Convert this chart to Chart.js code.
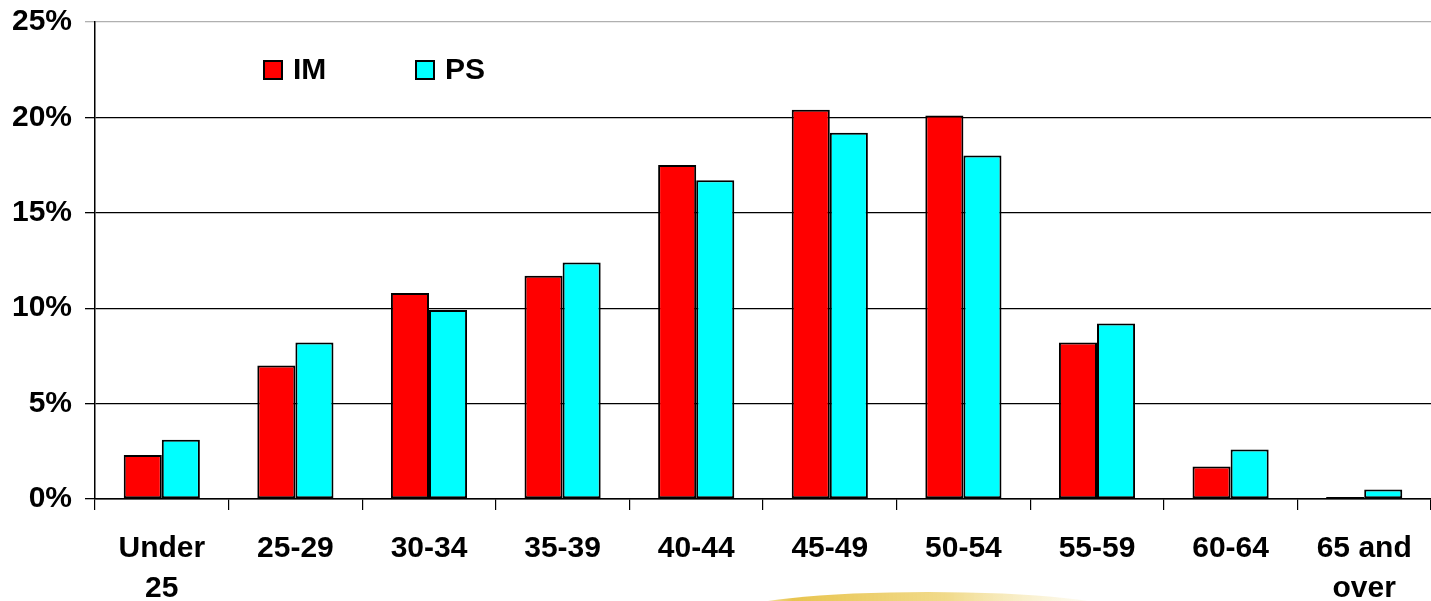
<!DOCTYPE html>
<html>
<head>
<meta charset="utf-8">
<script src="https://cdn.jsdelivr.net/npm/chart.js@4.4.1/dist/chart.umd.min.js"></script>
<style>
  html, body { margin: 0; padding: 0; background: #fff; }
  #wrap { width: 1431px; height: 601px; position: relative; }
</style>
</head>
<body>
<div id="wrap"><canvas id="c" width="1431" height="601"></canvas></div>
<script>
// Age bands and share of each group (percent)
const ageBands = [['Under', '25'], '25-29', '30-34', '35-39', '40-44', '45-49', '50-54', '55-59', '60-64', ['65 and', 'over']];
const imShare = [2.3, 7.0, 10.8, 11.7, 17.5, 20.4, 20.1, 8.2, 1.7, 0.1];
const psShare = [3.1, 8.2, 9.9, 12.4, 16.7, 19.2, 18.0, 9.2, 2.6, 0.5];
const yTicks = [0, 5, 10, 15, 20, 25];

const FONT = '"Liberation Sans", Arial, sans-serif';

// Legend drawn inside the plot area, top-left
const innerLegend = {
  id: 'innerLegend',
  afterDraw(chart) {
    const { ctx, chartArea } = chart;
    const items = chart.data.datasets;
    const x0 = chartArea.left + 169, y0 = chartArea.top + 39;
    const gap = 152;
    ctx.save();
    ctx.font = 'bold 30px ' + FONT;
    ctx.textBaseline = 'middle';
    items.forEach((ds, i) => {
      const x = x0 + i * gap;
      ctx.fillStyle = ds.backgroundColor;
      ctx.fillRect(x, y0, 18, 18);
      ctx.lineWidth = 2;
      ctx.strokeStyle = '#000';
      ctx.strokeRect(x, y0, 18, 18);
      ctx.fillStyle = '#000';
      ctx.fillText(ds.label, x + 29, y0 + 10);
    });
    ctx.restore();
  }
};

// Soft golden sweep along the bottom edge of the slide
const bottomSweep = {
  id: 'bottomSweep',
  beforeDraw(chart) {
    const { ctx } = chart;
    ctx.save();
    const g = ctx.createLinearGradient(735, 0, 1120, 0);
    g.addColorStop(0, 'rgba(230,190,60,0.0)');
    g.addColorStop(0.15, 'rgba(230,190,60,0.9)');
    g.addColorStop(0.55, 'rgba(236,206,100,0.75)');
    g.addColorStop(1, 'rgba(245,230,170,0.0)');
    ctx.fillStyle = g;
    ctx.beginPath();
    ctx.ellipse(928, 613, 195, 21, 0, 0, Math.PI * 2);
    ctx.fill();
    ctx.restore();
  }
};

new Chart(document.getElementById('c'), {
  type: 'bar',
  data: {
    labels: ageBands,
    datasets: [
      { label: 'IM', data: imShare, backgroundColor: '#ff0000', borderColor: '#000', borderWidth: 2, borderSkipped: false },
      { label: 'PS', data: psShare, backgroundColor: '#00ffff', borderColor: '#000', borderWidth: 2, borderSkipped: false }
    ]
  },
  options: {
    responsive: false,
    animation: false,
    devicePixelRatio: 1,
    layout: { padding: { top: 22, right: 0, left: 0, bottom: 0 } },
    datasets: { bar: { categoryPercentage: 0.57, barPercentage: 1.0 } },
    plugins: { legend: { display: false }, tooltip: { enabled: false } },
    scales: {
      x: {
        offset: true,
        afterFit(scale) {
          scale.height = 102;
          scale.paddingLeft = 0;
          scale.paddingRight = 0;
        },
        grid: { offset: true, drawOnChartArea: false, drawTicks: true, tickLength: 11, color: '#000', lineWidth: 1.2 },
        border: { color: '#000', width: 1.5 },
        ticks: {
          color: '#000',
          font: { family: FONT, size: 30, weight: 'bold', lineHeight: 1.32 },
          padding: 19,
          maxRotation: 0,
          autoSkip: false
        }
      },
      y: {
        min: 0,
        max: 25,
        afterBuildTicks(axis) { axis.ticks = yTicks.map(v => ({ value: v })); },
        afterFit(scale) {
          scale.width = 95;
          scale.paddingTop = 0;
          scale.paddingBottom = 0;
        },
        grid: {
          color: ctx => (ctx.tick && ctx.tick.value === 25) ? '#b0b0b0' : '#000',
          lineWidth: 1.3,
          tickLength: 10
        },
        border: { color: '#000', width: 1.5 },
        ticks: {
          color: '#000',
          font: { family: FONT, size: 30, weight: 'bold' },
          padding: 13,
          callback: v => v + '%'
        }
      }
    }
  },
  plugins: [bottomSweep, innerLegend]
});
</script>
</body>
</html>
